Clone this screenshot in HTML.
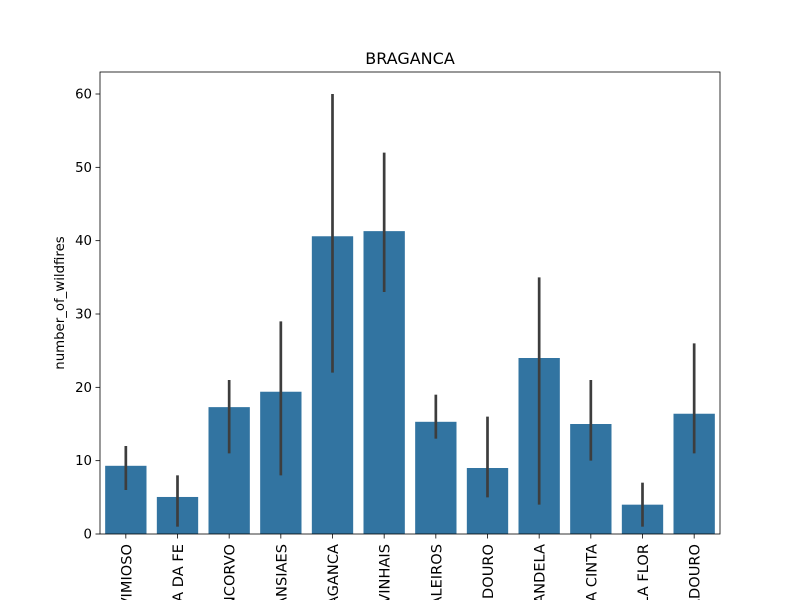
<!DOCTYPE html>
<html><head><meta charset="utf-8"><style>
html,body{margin:0;background:#fff;width:800px;height:600px;overflow:hidden;}
svg{display:block;}
svg text{font-family:"DejaVu Sans","Liberation Sans",sans-serif;fill:#000;}
</style></head><body>
<svg id="chart" width="800" height="600" viewBox="0 0 800 600"></svg>
<script>
const categories=["VIMIOSO","ALFANDEGA DA FE","TORRE DE MONCORVO","CARRAZEDA DE ANSIAES","BRAGANCA","VINHAIS","MACEDO DE CAVALEIROS","MIRANDA DO DOURO","MIRANDELA","FREIXO DE ESPADA A CINTA","VILA FLOR","MOGADOURO"];
const values=[9.3,5.05,17.3,19.4,40.6,41.3,15.3,9.0,24.0,15.0,4.0,16.4];
const errLow=[6,1,11,8,22,33,13,5,4,10,1,11];
const errHigh=[12,8,21,29,60,52,19,16,35,21,7,26];
const yTicks=[0,10,20,30,40,50,60];

const NS="http://www.w3.org/2000/svg";
const svg=document.getElementById('chart');
const L=100,R=720,T=72,B=534;
const y=v=>B-(v/60)*440;
const slot=(R-L)/categories.length;
const x=i=>L+slot*(i+0.5);
function el(tag,attrs,parent){const e=document.createElementNS(NS,tag);for(const k in attrs)e.setAttribute(k,attrs[k]);(parent||svg).appendChild(e);return e;}

const title=el('text',{x:410,y:64,'text-anchor':'middle','font-size':16});
title.textContent='BRAGANCA';



categories.forEach((c,i)=>{
  const w=slot*0.8;
  const r=el('rect',{x:x(i)-w/2,y:y(values[i]),width:w,height:B-y(values[i]),fill:'#3274a1'});
  
  
  const e=el('line',{x1:x(i),x2:x(i),y1:y(errLow[i]),y2:y(errHigh[i]),stroke:'#3d3d3d','stroke-width':2.7});
  
  
  el('line',{x1:x(i),x2:x(i),y1:B,y2:B+4.5,stroke:'#000','stroke-width':0.8});
  const t=el('text',{x:0,y:0,'text-anchor':'end','font-size':14.6,transform:`translate(${x(i)+5.5},${B+10}) rotate(-90)`});
  t.textContent=c;
  
  
});

yTicks.forEach(v=>{
  el('line',{x1:L-4.5,x2:L,y1:y(v),y2:y(v),stroke:'#000','stroke-width':0.8});
  const t=el('text',{x:L-8,y:y(v)+4.5,'text-anchor':'end','font-size':13.3});
  t.textContent=v;
  
  
});

const frame=el('rect',{x:L,y:T,width:R-L,height:B-T,fill:'none',stroke:'#000','stroke-width':0.8});



const yl=el('text',{x:0,y:0,'text-anchor':'middle','font-size':13.3,transform:`translate(64,${(T+B)/2}) rotate(-90)`});
yl.textContent='number_of_wildfires';


</script>
</body></html>
